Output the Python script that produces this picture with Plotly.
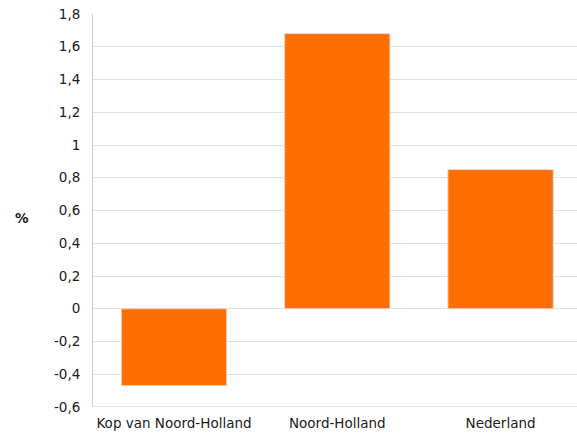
import plotly.graph_objects as go

# Regions and their percentage values
categories = ["Kop van Noord-Holland", "Noord-Holland", "Nederland"]
values = [-0.47, 1.68, 0.85]

# Y-axis ticks (decimal comma labels)
tick_vals = [-0.6, -0.4, -0.2, 0, 0.2, 0.4, 0.6, 0.8, 1.0, 1.2, 1.4, 1.6, 1.8]
tick_text = ["-0,6", "-0,4", "-0,2", "0", "0,2", "0,4", "0,6", "0,8", "1", "1,2", "1,4", "1,6", "1,8"]

font_family = "DejaVu Sans, Verdana, sans-serif"
text_size = 13.5

fig = go.Figure(
    go.Bar(
        x=categories,
        y=values,
        width=0.645,
        marker=dict(color="#ff6e00", line=dict(color="#e6d6cc", width=1)),
        hoverinfo="x+y",
    )
)

fig.update_layout(
    width=577,
    height=433,
    margin=dict(l=93, r=0, t=14, b=26),
    paper_bgcolor="white",
    plot_bgcolor="white",
    font=dict(family=font_family, size=text_size, color="#222222"),
    showlegend=False,
    xaxis=dict(
        range=[-0.496, 2.468],
        showgrid=False,
        showline=False,
        ticks="",
        tickfont=dict(size=text_size, color="#1a1a1a"),
        ticklabelstandoff=6,
    ),
    yaxis=dict(
        range=[-0.6, 1.8],
        tickvals=tick_vals,
        ticktext=tick_text,
        showgrid=True,
        gridcolor="#e2e2e2",
        gridwidth=1,
        zeroline=True,
        zerolinecolor="#e2e2e2",
        zerolinewidth=1,
        showline=True,
        linecolor="#cccccc",
        linewidth=1,
        ticks="",
        ticklabelstandoff=9,
        tickfont=dict(size=text_size, color="#1a1a1a"),
    ),
    annotations=[
        dict(
            text="<b>%</b>",
            xref="paper",
            yref="paper",
            x=0,
            y=0.481,
            xshift=-71,
            xanchor="center",
            yanchor="middle",
            showarrow=False,
            font=dict(size=text_size, color="#1a1a1a", family=font_family),
        )
    ],
    shapes=[
        dict(
            type="line",
            xref="paper",
            yref="y",
            x0=0,
            x1=1,
            y0=-0.6,
            y1=-0.6,
            line=dict(color="#cccccc", width=1),
        )
    ],
)

fig.write_html("out.html")
